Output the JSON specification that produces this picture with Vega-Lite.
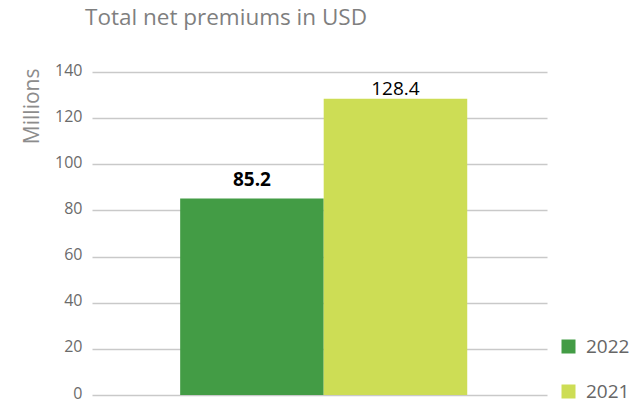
{
  "$schema": "https://vega.github.io/schema/vega-lite/v6.json",
  "width": 455,
  "height": 323,
  "autosize": {"type": "none"},
  "padding": {"left": 92, "top": 72, "right": 95, "bottom": 8},
  "background": "white",
  "data": {"values": [
    {"year": "2022", "value": 85.2},
    {"year": "2021", "value": 128.4}
  ]},
  "title": {
    "text": "Total net premiums in USD",
    "anchor": "start",
    "frame": "group",
    "dx": -7,
    "offset": 33,
    "font": "Open Sans",
    "fontSize": 22.5,
    "fontWeight": "normal",
    "color": "#7f7f7f"
  },
  "config": {
    "view": {"stroke": null},
    "font": "Open Sans"
  },
  "encoding": {
    "x": {
      "field": "year",
      "type": "nominal",
      "sort": ["2022", "2021"],
      "axis": null,
      "scale": {"paddingInner": 0, "paddingOuter": 0.585, "align": 0.525}
    },
    "y": {
      "field": "value",
      "type": "quantitative",
      "scale": {"domain": [0, 140]},
      "axis": {
        "values": [0, 20, 40, 60, 80, 100, 120, 140],
        "title": "Millions",
        "titleAnchor": "end",
        "titleFont": "Open Sans",
        "titleFontSize": 21,
        "titleFontWeight": "normal",
        "titleColor": "#8c8c8c",
        "titlePadding": 12,
        "titleY": -4,
        "labelFont": "Open Sans",
        "labelFontSize": 16,
        "labelColor": "#6b6b6b",
        "labelPadding": 10,
        "labelOffset": -2,
        "domain": false,
        "ticks": false,
        "grid": true,
        "gridColor": "#c9c9c9",
        "gridWidth": 1.5
      }
    }
  },
  "layer": [
    {
      "mark": {"type": "bar"},
      "encoding": {
        "color": {
          "field": "year",
          "type": "nominal",
          "sort": ["2022", "2021"],
          "scale": {"domain": ["2022", "2021"], "range": ["#439c45", "#cddd55"]},
          "legend": {
            "title": null,
            "orient": "none",
            "legendX": 467,
            "legendY": 265,
            "padding": 0,
            "symbolType": "square",
            "symbolSize": 196,
            "symbolStrokeWidth": 0,
            "symbolOpacity": 1,
            "labelFont": "Open Sans",
            "labelFontSize": 19,
            "labelColor": "#666666",
            "labelOffset": 8,
            "rowPadding": 25
          }
        }
      }
    },
    {
      "transform": [{"filter": "datum.year == '2022'"}],
      "mark": {"type": "text", "baseline": "alphabetic", "dy": -12, "fontSize": 19, "fontWeight": "bold", "color": "#000000", "font": "Open Sans"},
      "encoding": {"text": {"field": "value", "type": "quantitative", "format": ".1f"}}
    },
    {
      "transform": [{"filter": "datum.year == '2021'"}],
      "mark": {"type": "text", "baseline": "alphabetic", "dy": -4, "fontSize": 19, "fontWeight": "normal", "color": "#000000", "font": "Open Sans"},
      "encoding": {"text": {"field": "value", "type": "quantitative", "format": ".1f"}}
    }
  ]
}
